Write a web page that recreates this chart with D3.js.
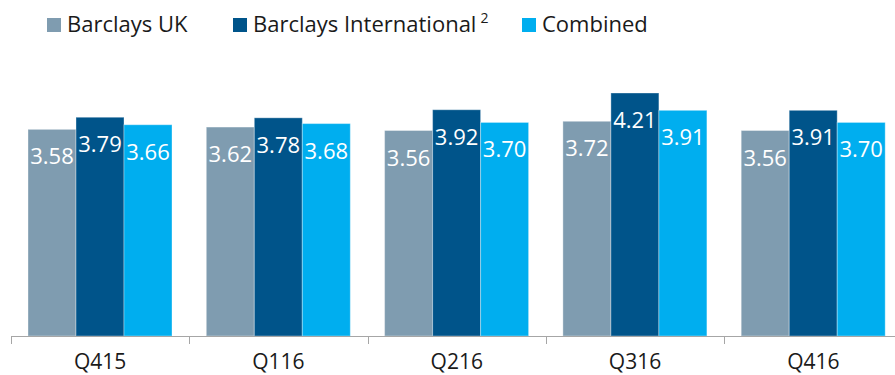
<!DOCTYPE html>
<html>
<head>
<meta charset="utf-8">
<script src="https://cdn.jsdelivr.net/npm/d3@7"></script>
<style>
  html, body { margin: 0; padding: 0; background: #fff; }
  svg { display: block; font-family: "Open Sans", sans-serif; }
</style>
</head>
<body>
<svg id="chart" width="895" height="375"></svg>
<script>
// Quarterly values per business segment
const quarters = ["Q415", "Q116", "Q216", "Q316", "Q416"];
const seriesNames = ["Barclays UK", "Barclays International", "Combined"];
const barclaysUK = [3.58, 3.62, 3.56, 3.72, 3.56];
const barclaysIntl = [3.79, 3.78, 3.92, 4.21, 3.91];
const combined = [3.66, 3.68, 3.70, 3.91, 3.70];
const seriesColors = ["#7f9cb0", "#00548a", "#00aeef"];

const seriesValues = [barclaysUK, barclaysIntl, combined];
const rows = quarters.map((q, i) => ({
  quarter: q,
  values: seriesNames.map((name, s) => ({ name, s, value: seriesValues[s][i] }))
}));

const svg = d3.select("#chart");
const baseY = 336;
const pxPerUnit = 57.72;

const x0 = d3.scaleBand().domain(quarters).range([11, 11 + 178.3 * quarters.length]).padding(0);
const x1 = d3.scaleBand().domain(seriesNames).range([17, 17 + 144]).padding(0);
const y = d3.scaleLinear().domain([0, baseY / pxPerUnit]).range([baseY, 0]);

// Bars
const groups = svg.append("g").selectAll("g")
  .data(rows).join("g")
  .attr("transform", d => `translate(${x0(d.quarter)},0)`);

groups.selectAll("rect")
  .data(d => d.values).join("rect")
  .attr("x", d => x1(d.name))
  .attr("y", d => y(d.value))
  .attr("width", x1.bandwidth())
  .attr("height", d => y(0) - y(d.value))
  .attr("fill", d => seriesColors[d.s])
  .attr("stroke", "#ffffff")
  .attr("stroke-opacity", 0.35)
  .attr("stroke-width", 1);

// Value labels inside bars
groups.selectAll("text")
  .data(d => d.values).join("text")
  .attr("x", d => x1(d.name) + x1.bandwidth() / 2)
  .attr("y", d => y(d.value) + 35)
  .attr("text-anchor", "middle")
  .attr("fill", "#ffffff")
  .attr("font-size", 22)
  .text(d => d.value.toFixed(2));

// Category axis
const axis = svg.append("g").attr("transform", `translate(0,${baseY})`);
axis.append("line")
  .attr("x1", 11).attr("x2", 895)
  .attr("y1", 0.5).attr("y2", 0.5)
  .attr("stroke", "#a6a6a6").attr("stroke-width", 1);
const boundaries = quarters.map(q => x0(q)).concat([x0(quarters[quarters.length - 1]) + x0.bandwidth()]);
axis.selectAll("line.tick")
  .data(boundaries).join("line")
  .attr("class", "tick")
  .attr("x1", d => Math.round(d) + 0.5).attr("x2", d => Math.round(d) + 0.5)
  .attr("y1", 0).attr("y2", 8)
  .attr("stroke", "#a6a6a6").attr("stroke-width", 1);
axis.selectAll("text")
  .data(quarters).join("text")
  .attr("x", d => x0(d) + x0.bandwidth() / 2)
  .attr("y", 33)
  .attr("text-anchor", "middle")
  .attr("fill", "#1a1a1a")
  .attr("font-size", 21)
  .text(d => d);

// Legend
const legendItems = [
  { name: seriesNames[0], sup: null, x: 47 },
  { name: seriesNames[1], sup: "2", x: 233 },
  { name: seriesNames[2], sup: null, x: 522 }
];
const legend = svg.append("g");
legendItems.forEach((item, i) => {
  legend.append("rect")
    .attr("x", item.x).attr("y", 18)
    .attr("width", 14).attr("height", 14)
    .attr("fill", seriesColors[i]);
  const t = legend.append("text")
    .attr("x", item.x + 20).attr("y", 32)
    .attr("fill", "#1a1a1a")
    .attr("font-size", 22)
    .text(item.name);
  if (item.sup) {
    t.append("tspan")
      .attr("dx", 4).attr("dy", -9)
      .attr("font-size", 14)
      .text(item.sup);
  }
});
</script>
</body>
</html>
